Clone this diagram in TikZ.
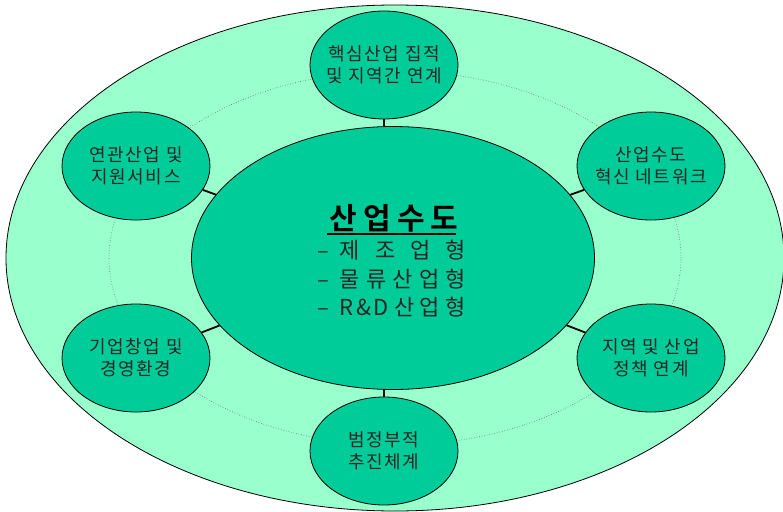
\documentclass[tikz,border=0pt]{standalone}
\usepackage{fontspec}
\setmainfont{Noto Sans CJK KR}
\newfontfamily\krsat{Noto Sans CJK KR}[LetterSpace=9]
\newfontfamily\krhub{Noto Sans CJK KR}[LetterSpace=10]
\newfontfamily\krtitle{Noto Sans CJK KR Bold}[LetterSpace=20]
\usetikzlibrary{shapes.geometric}
\definecolor{outerfill}{HTML}{99FFCC}
\definecolor{innerfill}{HTML}{00CC99}
\newcommand{\hubline}[1]{\makebox[23pt][l]{–}\makebox[126pt][s]{#1}}
\begin{document}
\begin{tikzpicture}[x=1pt,y=-1pt,
  satellite/.style={ellipse,draw=black,line width=0.8pt,fill=innerfill,minimum width=148pt,minimum height=108pt,inner sep=0pt},
  sattext/.style={align=center,font=\krsat\fontsize{18}{22}\selectfont,inner sep=0pt,text=black!85},
  link/.style={line width=1.8pt,draw=black},
  ring/.style={draw=black!60,dotted,line width=0.6pt}]
\useasboundingbox (0,0) rectangle (783,511);
\clip (0,0) rectangle (783,511);
\node[ellipse,draw=black,line width=0.8pt,fill=outerfill,minimum width=778pt,minimum height=506pt,inner sep=0pt] (outer) at (395,258) {};
\draw[ring] (395,258) ellipse [x radius=286pt, y radius=187pt];
\node[ellipse,draw=black,line width=0.8pt,fill=innerfill,minimum width=403pt,minimum height=263pt,inner sep=0pt] (hub) at (393,258) {};
\node[inner sep=0pt,font=\krtitle\fontsize{30}{32}\selectfont] (title) at (394,218) {산업수도};
\draw[line width=1.8pt] ([xshift=-3pt,yshift=-5pt]title.base west) -- ([xshift=-2pt,yshift=-5pt]title.base east);
\node[inner sep=0pt,align=left,font=\krhub\fontsize{22}{28.5}\selectfont,text=black!85] (types) at (391.5,279)
  {\hubline{제\hfill 조\hfill 업\hfill 형}\\\hubline{물\hfill 류\hfill 산\hfill 업\hfill 형}\\\hubline{R\&D\hfill 산\hfill 업\hfill 형}};
\node[satellite] (s1) at (384,65) {};
\node[satellite] (s2) at (651,166) {};
\node[satellite] (s3) at (651,358) {};
\node[satellite] (s4) at (384,451) {};
\node[satellite] (s5) at (136,358) {};
\node[satellite] (s6) at (136,166) {};
\node[sattext] at (s1) {핵심산업 집적\\및 지역간 연계};
\node[sattext] at (s2) {산업수도\\혁신 네트워크};
\node[sattext] at (s3) {지역 및 산업\\정책 연계};
\node[sattext] at (s4) {범정부적\\추진체계};
\node[sattext] at (s5) {기업창업 및\\경영환경};
\node[sattext] at (s6) {연관산업 및\\지원서비스};
\draw[link] (s1.south) -- (s1.south |- hub.north);
\draw[link] (s4.north) -- (s4.north |- hub.south);
\draw[link] (hub) -- (s2);
\draw[link] (hub) -- (s3);
\draw[link] (hub) -- (s5);
\draw[link] (hub) -- (s6);
\end{tikzpicture}
\end{document}
